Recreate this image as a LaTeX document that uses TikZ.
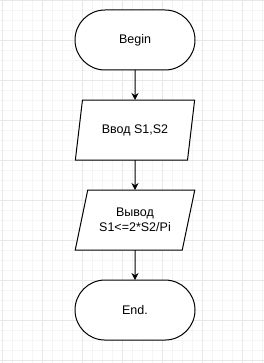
\documentclass[tikz,border=0pt]{standalone}
\usepackage{fontspec}
\setmainfont{Liberation Sans}
\usetikzlibrary{arrows.meta,positioning,shapes.geometric}

\begin{document}
\begin{tikzpicture}[
    x=1pt, y=1pt,
    node distance=30pt,
    minor/.style={draw=black!4, line width=0.6pt},
    major/.style={draw=black!9, line width=0.6pt},
    block/.style={draw, fill=white, line width=1pt, align=center, inner sep=0pt, outer sep=0pt, minimum width=120pt, minimum height=60pt, font=\fontsize{12.5}{15}\selectfont},
    terminal/.style={block, rectangle, rounded corners=30pt},
    io/.style={block, trapezium, trapezium left angle=68.2, trapezium right angle=111.8, trapezium stretches=true},
    arrow/.style={-{Stealth[length=7pt, width=7pt]}, line width=1pt}
]
\useasboundingbox[fill=white] (0,0) rectangle (264,-363);
% grid
\foreach \x in {2,12,...,262} \draw[minor] (\x,0) -- (\x,-363);
\foreach \y in {0,10,...,360} \draw[minor] (0,-\y) -- (264,-\y);
\foreach \x in {2,42,...,242} \draw[major] (\x,0) -- (\x,-363);
\foreach \y in {0,40,...,360} \draw[major] (0,-\y) -- (264,-\y);

\node[terminal] (begin) at (135,-40) {Begin};
\node[io, below=of begin] (input) {Ввод S1,S2};
\node[io, below=of input] (output) {Вывод\\S1<=2*S2/Pi};
\node[terminal, below=of output] (end) {End.};

\draw[arrow] (begin) -- (input);
\draw[arrow] (input) -- (output);
\draw[arrow] (output) -- (end);
\end{tikzpicture}
\end{document}
